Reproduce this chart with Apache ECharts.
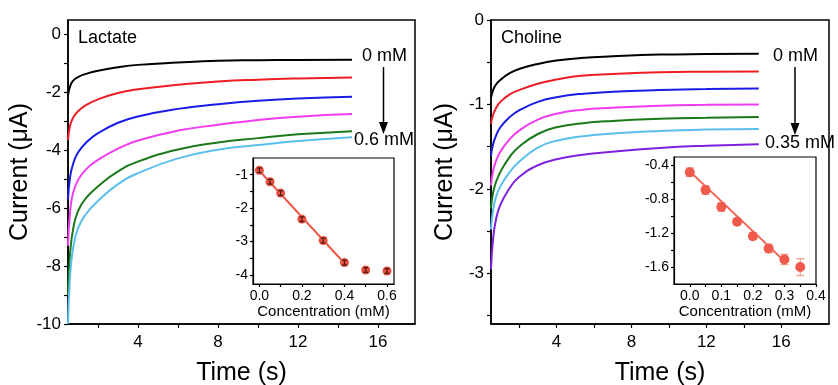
<!DOCTYPE html>
<html>
<head>
<meta charset="utf-8">
<script src="https://cdn.jsdelivr.net/npm/echarts@6/dist/echarts.min.js"></script>
<style>
  html, body { margin: 0; padding: 0; background: #fff; }
  #chart { width: 838px; height: 385px; }
</style>
</head>
<body>
<div id="chart"></div>
<script>
// lactate transients (left panel), 0 -> 0.6 mM
const lactateTime = [0.5, 0.6, 0.75, 1.0, 1.4, 2.0, 3.0, 4.0, 6.0, 8.0, 10.0, 12.0, 14.7];
const lactate0 = [-2.1, -1.8, -1.6, -1.47, -1.36, -1.25, -1.13, -1.05, -0.97, -0.91, -0.89, -0.878, -0.87];
const lactate1 = [-3.65, -3.15, -2.88, -2.65, -2.44, -2.24, -2.02, -1.89, -1.74, -1.625, -1.56, -1.52, -1.49];
const lactate2 = [-5.7, -4.95, -4.48, -4.08, -3.74, -3.41, -3.05, -2.83, -2.57, -2.41, -2.29, -2.21, -2.15];
const lactate3 = [-7.3, -6.15, -5.48, -5.03, -4.66, -4.33, -3.94, -3.66, -3.32, -3.12, -2.95, -2.84, -2.75];
const lactate4 = [-9.0, -7.6, -6.75, -6.1, -5.65, -5.25, -4.73, -4.39, -3.97, -3.73, -3.58, -3.45, -3.34];
const lactate5 = [-10, -8.4, -7.4, -6.7, -6.2, -5.75, -5.17, -4.79, -4.28, -3.98, -3.82, -3.68, -3.55];

// choline transients (right panel), 0 -> 0.35 mM
const cholineTime = [0.5, 0.6, 0.75, 1.0, 1.5, 2.0, 3.0, 4.0, 5.3, 7.0, 9.5, 12.0, 14.8];
const choline0 = [-0.92, -0.84, -0.77, -0.71, -0.63, -0.58, -0.52, -0.48, -0.45, -0.43, -0.41, -0.403, -0.4];
const choline1 = [-1.23, -1.13, -1.05, -0.97, -0.88, -0.83, -0.755, -0.705, -0.66, -0.64, -0.62, -0.613, -0.61];
const choline2 = [-1.61, -1.48, -1.38, -1.27, -1.15, -1.07, -0.97, -0.915, -0.875, -0.85, -0.83, -0.817, -0.81];
const choline3 = [-1.96, -1.8, -1.68, -1.56, -1.41, -1.31, -1.18, -1.11, -1.065, -1.04, -1.015, -1.004, -1.0];
const choline4 = [-2.23, -2.06, -1.93, -1.8, -1.62, -1.5, -1.35, -1.27, -1.225, -1.195, -1.17, -1.157, -1.15];
const choline5 = [-2.48, -2.27, -2.11, -1.97, -1.8, -1.68, -1.51, -1.43, -1.38, -1.345, -1.315, -1.298, -1.29];
const choline6 = [-2.95, -2.62, -2.38, -2.19, -1.99, -1.86, -1.72, -1.65, -1.6, -1.56, -1.515, -1.488, -1.47];

// calibration insets
const lactateConc = [0, 0.05, 0.1, 0.2, 0.3, 0.4, 0.5, 0.6];
const lactateResp = [-0.87, -1.21, -1.55, -2.33, -2.97, -3.63, -3.85, -3.88];
const lactateErr = [0.07, 0.07, 0.07, 0.07, 0.07, 0.07, 0.07, 0.07];
const lactateFitX = [0, 0.4];
const lactateFitY = [-0.88, -3.65];

const cholineConc = [0, 0.05, 0.1, 0.15, 0.2, 0.25, 0.3, 0.35];
const cholineResp = [-0.48, -0.69, -0.89, -1.065, -1.235, -1.38, -1.51, -1.6];
const cholineErr = [0.05, 0.05, 0.05, 0.03, 0.04, 0.05, 0.06, 0.1];
const cholineFitX = [0, 0.3];
const cholineFitY = [-0.47, -1.53];

// tick positions
const mainXLabels = [4, 8, 12, 16];
const mainXTicks = [2, 4, 6, 8, 10, 12, 14, 16];
const lactateYLabels = [0, -2, -4, -6, -8, -10];
const lactateYTicks = [0, -1, -2, -3, -4, -5, -6, -7, -8, -9, -10];
const cholineYLabels = [0, -1, -2, -3];
const cholineYTicks = [0, -0.5, -1, -1.5, -2, -2.5, -3, -3.5];
const lacInsetXLabels = [0, 0.2, 0.4, 0.6];
const lacInsetXTicks = [0, 0.1, 0.2, 0.3, 0.4, 0.5, 0.6];
const lacInsetYLabels = [-1, -2, -3, -4];
const lacInsetYTicks = [-1, -1.5, -2, -2.5, -3, -3.5, -4];
const choInsetXLabels = [0, 0.1, 0.2, 0.3, 0.4];
const choInsetXTicks = [0, 0.05, 0.1, 0.15, 0.2, 0.25, 0.3, 0.35, 0.4];
const choInsetYLabels = [-0.4, -0.8, -1.2, -1.6];
const choInsetYTicks = [-0.4, -0.6, -0.8, -1.0, -1.2, -1.4, -1.6];

const FONT = "'Liberation Sans', Arial, sans-serif";
const lacColors = ["#000000", "#ee1d23", "#1b1be6", "#f03cf0", "#1a7a1a", "#5bbfee"];
const choColors = ["#000000", "#ee1d23", "#1b1be6", "#f03cf0", "#1a7a1a", "#5bbfee", "#7f22e0"];

const chart = echarts.init(document.getElementById("chart"));

function axis(gridIndex, min, max, labels, ticks, opts) {
  return {
    type: "value",
    gridIndex,
    min,
    max,
    axisLine: { show: true, onZero: false, lineStyle: { color: "#000", width: opts.lineWidth || 1.5 } },
    axisTick: { show: true, inside: false, length: opts.tickLen || 4, customValues: ticks, lineStyle: { color: "#000", width: 1.2 } },
    axisLabel: {
      customValues: labels,
      color: "#000",
      fontSize: opts.fontSize,
      fontFamily: FONT,
      margin: opts.margin,
      formatter: (v) => v.toFixed(opts.digits || 0),
    },
    splitLine: { show: false },
    name: opts.name || "",
    nameLocation: "middle",
    nameGap: opts.nameGap || 0,
    nameTextStyle: { color: "#000", fontSize: opts.nameSize || 25, fontFamily: FONT },
  };
}

function curve(x, y, color, xi) {
  return {
    type: "line",
    xAxisIndex: xi,
    yAxisIndex: xi,
    data: x.map((t, i) => [t, y[i]]),
    smooth: 0.5,
    showSymbol: false,
    lineStyle: { color, width: 2 },
    silent: true,
  };
}

function errorBars(x, y, e, idx, color, cap) {
  return {
    type: "custom",
    xAxisIndex: idx,
    yAxisIndex: idx,
    z: 5,
    data: x.map((c, i) => [c, y[i], e[i]]),
    renderItem(params, api) {
      const cx = api.value(0), cy = api.value(1), err = api.value(2);
      const top = api.coord([cx, cy + err]);
      const bot = api.coord([cx, cy - err]);
      const style = { stroke: color, lineWidth: 1.2 };
      return {
        type: "group",
        children: [
          { type: "line", shape: { x1: top[0], y1: top[1], x2: bot[0], y2: bot[1] }, style },
          { type: "line", shape: { x1: top[0] - cap, y1: top[1], x2: top[0] + cap, y2: top[1] }, style },
          { type: "line", shape: { x1: bot[0] - cap, y1: bot[1], x2: bot[0] + cap, y2: bot[1] }, style },
        ],
      };
    },
  };
}

const lacCurves = [lactate0, lactate1, lactate2, lactate3, lactate4, lactate5];
const choCurves = [choline0, choline1, choline2, choline3, choline4, choline5, choline6];

function textEl(x, y, text, size) {
  return { type: "text", left: x, top: y, style: { text, fill: "#000", fontSize: size, fontFamily: FONT } };
}

function arrowEl(x, y1, y2) {
  return {
    type: "group",
    children: [
      { type: "line", shape: { x1: x, y1: y1, x2: x, y2: y2 - 10 }, style: { stroke: "#000", lineWidth: 1.5 } },
      { type: "polygon", shape: { points: [[x - 4.5, y2 - 12], [x + 4.5, y2 - 12], [x, y2]] }, style: { fill: "#000" } },
    ],
  };
}

function gridBox(left, top, width, height, bw, bg) {
  return {
    left, top, width, height,
    outerBoundsMode: "none",
    containLabel: false,
    show: true,
    borderColor: "#000",
    borderWidth: bw,
    backgroundColor: bg,
  };
}

chart.setOption({
  animation: false,
  backgroundColor: "#fff",
  grid: [
    gridBox(68, 20, 347, 304, 1.5, "transparent"),
    gridBox(491, 20, 338, 304, 1.5, "transparent"),
    gridBox(253, 158, 141, 126, 1.2, "#fff"),
    gridBox(674, 157, 142, 127, 1.2, "#fff"),
  ],
  xAxis: [
    axis(0, 0.5, 17.85, mainXLabels, mainXTicks, { fontSize: 17, margin: 10, name: "Time (s)", nameGap: 37 }),
    axis(1, 0.5, 18.55, mainXLabels, mainXTicks, { fontSize: 17, margin: 10, name: "Time (s)", nameGap: 37 }),
    axis(2, -0.03, 0.633, lacInsetXLabels, lacInsetXTicks, { fontSize: 14, margin: 5, digits: 1, tickLen: 3, lineWidth: 1.2, name: "Concentration (mM)", nameGap: 20, nameSize: 15 }),
    axis(3, -0.05, 0.4, choInsetXLabels, choInsetXTicks, { fontSize: 14, margin: 5, digits: 1, tickLen: 3, lineWidth: 1.2, name: "Concentration (mM)", nameGap: 20, nameSize: 15 }),
  ],
  yAxis: [
    axis(0, -10, 0.5, lactateYLabels, lactateYTicks, { fontSize: 17, margin: 7, name: "Current (\u03bcA)", nameGap: 26 }),
    axis(1, -3.6, 0, cholineYLabels, cholineYTicks, { fontSize: 17, margin: 7, name: "Current (\u03bcA)", nameGap: 33 }),
    axis(2, -4.27, -0.5, lacInsetYLabels, lacInsetYTicks, { fontSize: 14, margin: 5, tickLen: 3, lineWidth: 1.2 }),
    axis(3, -1.8, -0.3, choInsetYLabels, choInsetYTicks, { fontSize: 14, margin: 5, digits: 1, tickLen: 3, lineWidth: 1.2 }),
  ],
  series: [
    ...lacCurves.map((y, i) => curve(lactateTime, y, lacColors[i], 0)),
    ...choCurves.map((y, i) => curve(cholineTime, y, choColors[i], 1)),
    {
      type: "line", xAxisIndex: 2, yAxisIndex: 2, showSymbol: false, silent: true,
      data: lactateFitX.map((c, i) => [c, lactateFitY[i]]),
      lineStyle: { color: "#ee5a48", width: 2 },
    },
    {
      type: "scatter", xAxisIndex: 2, yAxisIndex: 2, symbolSize: 9, silent: true,
      data: lactateConc.map((c, i) => [c, lactateResp[i]]),
      itemStyle: { color: "#ec4e3e", opacity: 1 },
    },
    errorBars(lactateConc, lactateResp, lactateErr, 2, "#4a1a12", 2.5),
    {
      type: "line", xAxisIndex: 3, yAxisIndex: 3, showSymbol: false, silent: true,
      data: cholineFitX.map((c, i) => [c, cholineFitY[i]]),
      lineStyle: { color: "#f06252", width: 2 },
    },
    errorBars(cholineConc, cholineResp, cholineErr, 3, "#f49a8e", 4),
    {
      type: "scatter", xAxisIndex: 3, yAxisIndex: 3, symbolSize: 10, silent: true, z: 6,
      data: cholineConc.map((c, i) => [c, cholineResp[i]]),
      itemStyle: { color: "#f05a4c", opacity: 1 },
    },
  ],
  graphic: [
    textEl(78, 29, "Lactate", 18),
    textEl(362, 47, "0 mM", 18),
    textEl(354, 131, "0.6 mM", 18),
    arrowEl(383.5, 67, 134),
    textEl(501, 29, "Choline", 18),
    textEl(773, 47, "0 mM", 18),
    textEl(765, 134, "0.35 mM", 18),
    arrowEl(795, 67, 135),
  ],
});
</script>
</body>
</html>
